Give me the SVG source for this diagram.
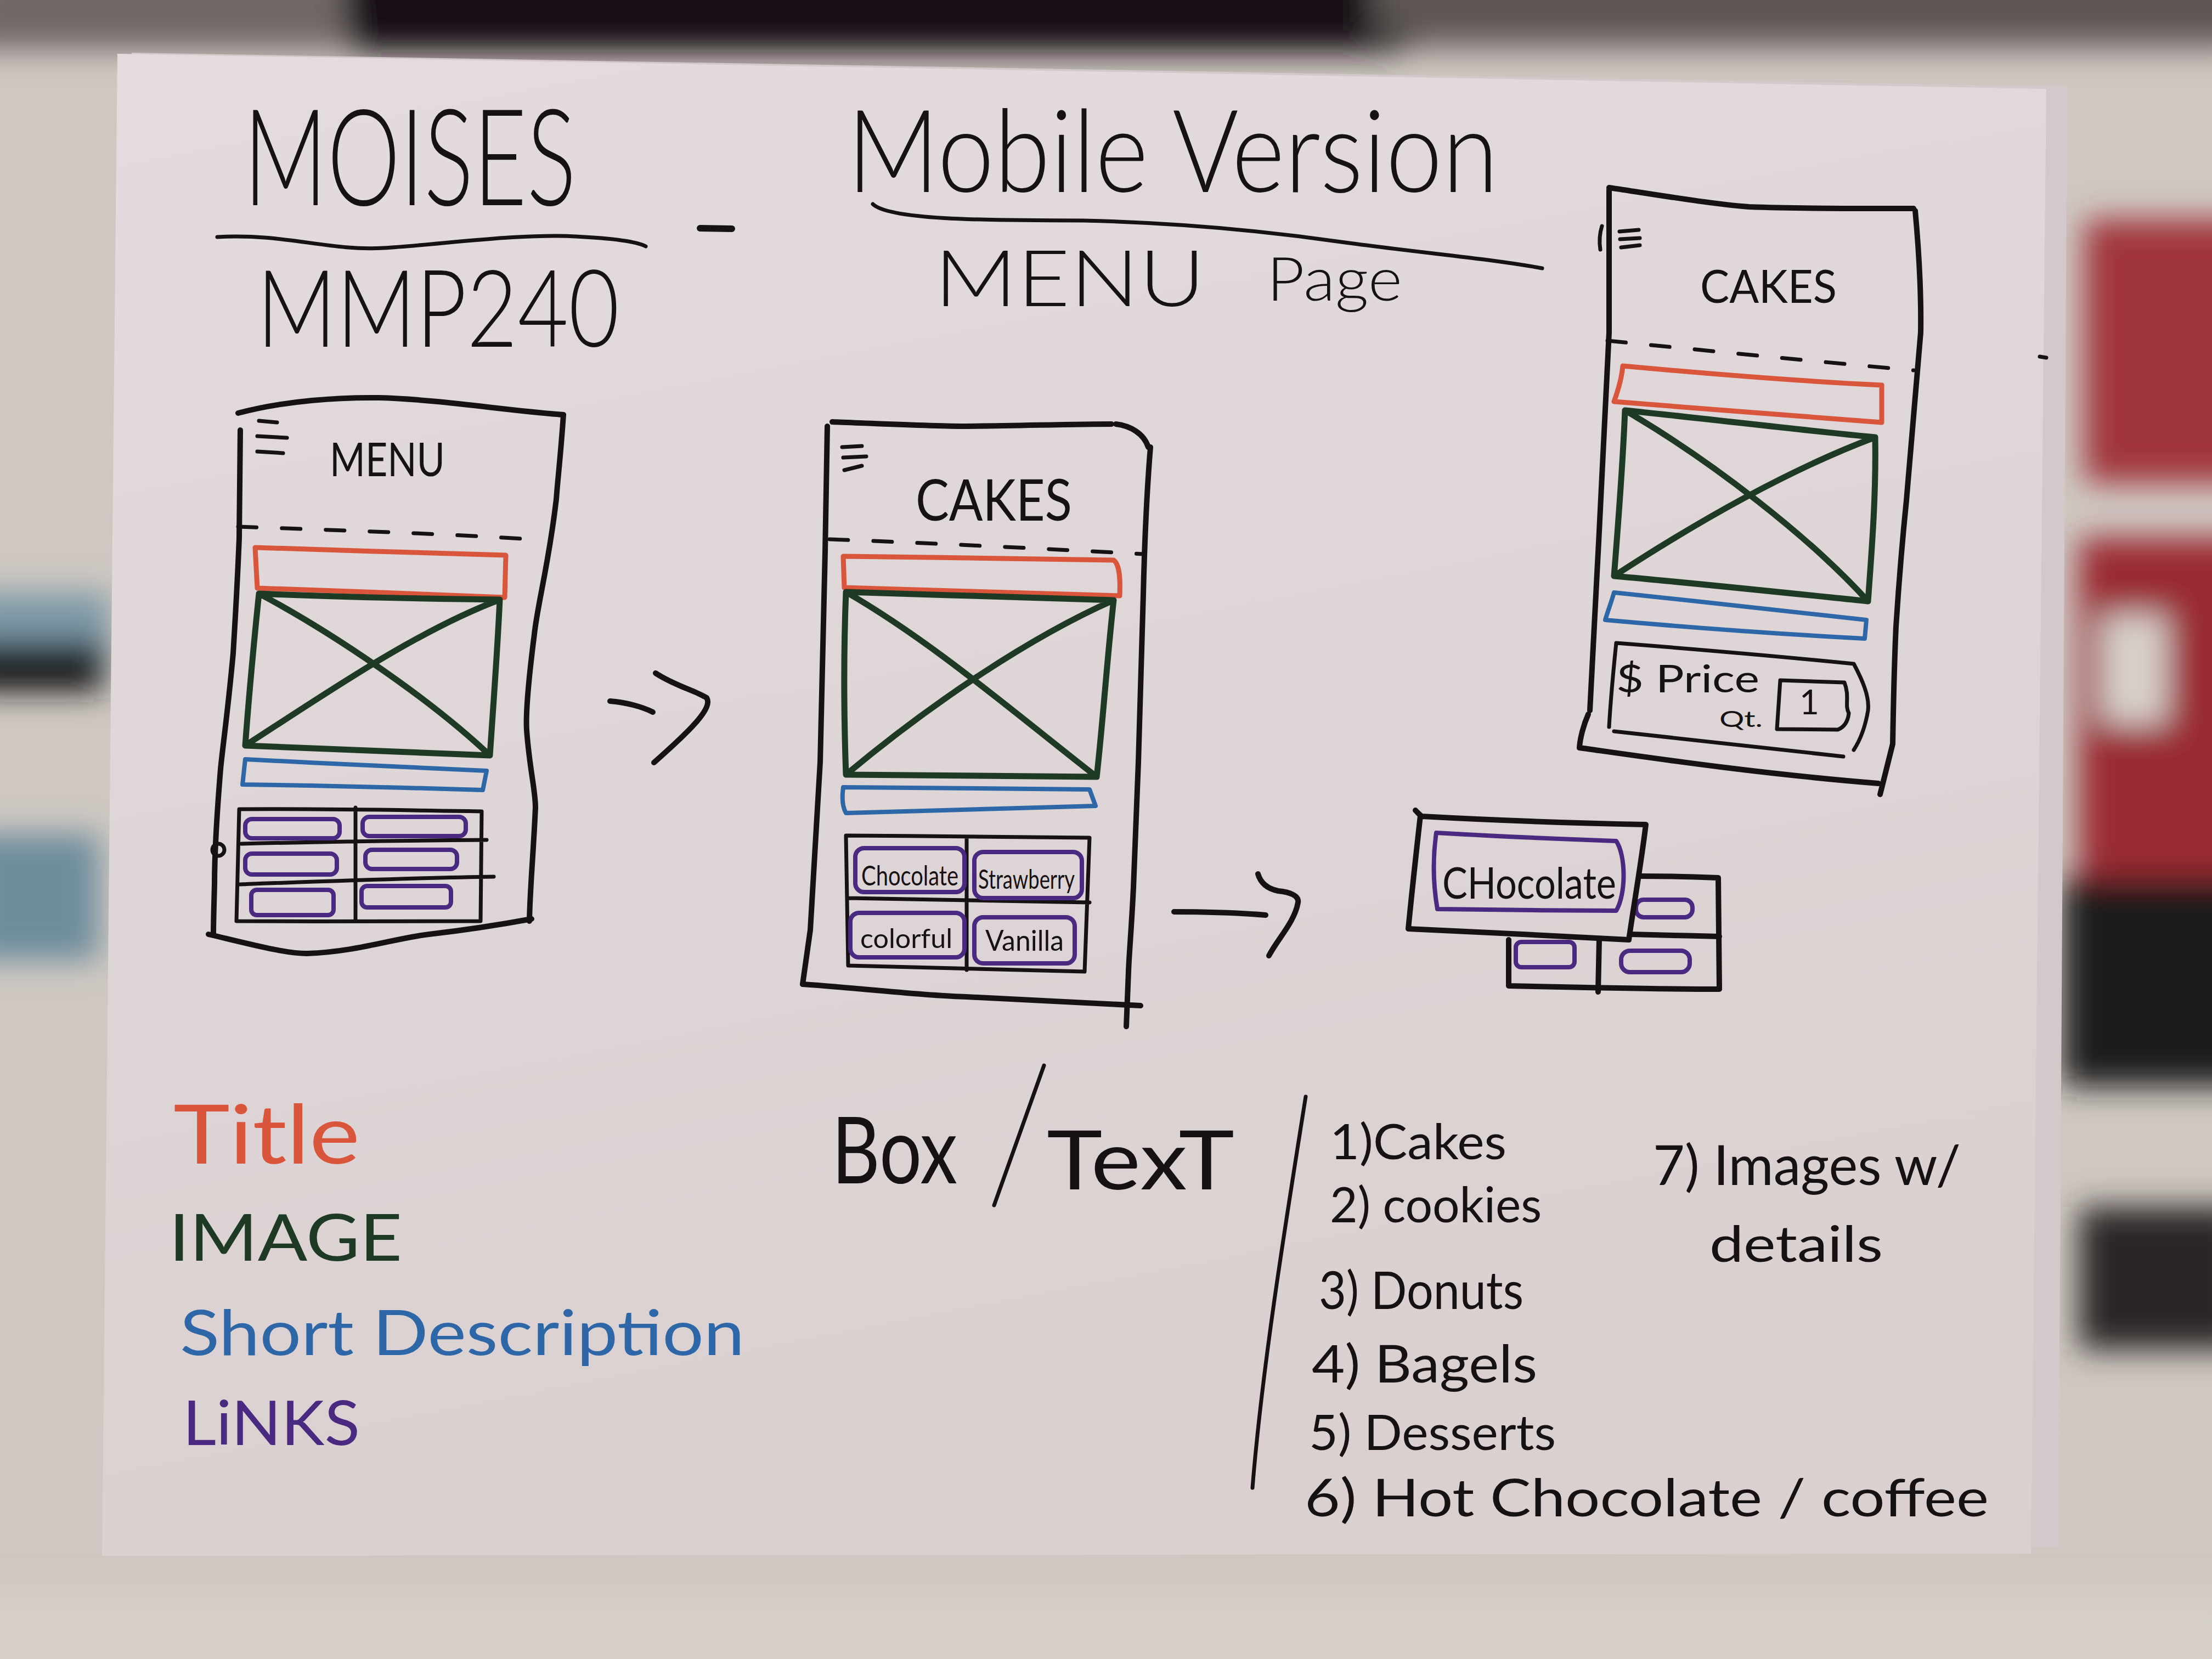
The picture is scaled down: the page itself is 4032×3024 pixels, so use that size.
<svg xmlns="http://www.w3.org/2000/svg" width="4032" height="3024" viewBox="0 0 4032 3024">
<defs>
<style>
.ink{fill:none;stroke:#161113;stroke-width:10;stroke-linecap:round;stroke-linejoin:round}
.fine{stroke-width:7}
.dash{stroke-dasharray:34 46}
.red{fill:none;stroke:#d9553b;stroke-width:9;stroke-linecap:round;stroke-linejoin:round}
.grn{fill:none;stroke:#1e3a24;stroke-width:11;stroke-linecap:round;stroke-linejoin:round}
.blu{fill:none;stroke:#2d67a8;stroke-width:8;stroke-linecap:round;stroke-linejoin:round}
.pur{fill:none;stroke:#4a2a80;stroke-width:8;stroke-linecap:round;stroke-linejoin:round}
text{font-family:Lato,"Open Sans","DejaVu Sans",sans-serif;fill:#161113}
.thin{font-weight:300}
.mk{font-weight:400}
</style>
<filter id="fuzz" x="-20%" y="-20%" width="140%" height="140%"><feGaussianBlur stdDeviation="28"/></filter>
<linearGradient id="sheet" x1="0" y1="0" x2="0.25" y2="1">
<stop offset="0" stop-color="#e3dbde"/>
<stop offset="1" stop-color="#dad0d0"/>
</linearGradient>
</defs>

<!-- blanket under the sheets -->
<g id="backdrop">
<rect x="0" y="0" width="4032" height="3024" fill="#cfc8c2"/>
<g filter="url(#fuzz)">
<rect x="-60" y="-60" width="4150" height="150" fill="#6f6866"/>
<path d="M620,-60 L2600,-60 L2560,95 L640,95 Z" fill="#141112"/>
<rect x="2500" y="-60" width="1600" height="120" fill="#5c5553"/>
<rect x="3800" y="400" width="300" height="480" fill="#a0353a"/>
<rect x="3790" y="980" width="320" height="620" fill="#9a2b30"/>
<rect x="3830" y="1120" width="120" height="200" fill="#d8d0cc"/>
<rect x="3760" y="1600" width="340" height="380" fill="#1d1a1c"/>
<rect x="3790" y="2200" width="300" height="260" fill="#2a2628"/>
<rect x="-60" y="1080" width="260" height="140" fill="#7c98a6"/>
<rect x="-60" y="1170" width="250" height="90" fill="#151314"/>
<rect x="-60" y="1520" width="240" height="230" fill="#6d8c9c"/>
<rect x="-60" y="2900" width="4150" height="200" fill="#d6cfc9"/>
</g>
</g>

<!-- paper: one sheet behind, one on top -->
<g id="paper">
<path d="M240,96 L3768,158 L3752,2820 L210,2832 Z" fill="#d3c9cb"/>
<path d="M214,98 L3730,162 L3702,2832 L186,2836 Z" fill="url(#sheet)"/>
<path d="M3718,650 L3730,652" class="ink fine"/>
</g>

<!-- heading -->
<g id="heading">
<text class="thin" x="444" y="374" font-size="245" textLength="606" lengthAdjust="spacingAndGlyphs">MOISES</text>
<path class="ink fine" d="M396,432 C520,425 600,458 699,452 C800,446 950,425 1049,431 C1110,434 1160,440 1177,449"/>
<path class="ink" d="M1276,416 L1334,417" style="stroke-width:12"/>
<text class="thin" x="468" y="632" font-size="195" textLength="661" lengthAdjust="spacingAndGlyphs">MMP240</text>
<text class="thin" x="1544" y="350" font-size="210" textLength="1187" lengthAdjust="spacingAndGlyphs">Mobile Version</text>
<path class="ink fine" d="M1591,372 C1620,400 1780,402 1974,402 C2150,406 2300,420 2452,442 C2600,462 2720,472 2811,489"/>
<text class="thin" x="1703" y="558" font-size="143" textLength="494" lengthAdjust="spacingAndGlyphs">MENU</text>
<text class="thin" x="2309" y="548" font-size="110" textLength="247" lengthAdjust="spacingAndGlyphs">Page</text>
</g>

<!-- wireframe: menu screen -->
<g id="wf-menu">
<path class="ink" d="M434,753 C520,730 620,724 692,725 C800,728 920,748 1027,756"/>
<path class="ink" d="M1027,756 C1022,830 1016,880 1014,910 C1000,1030 980,1100 974,1156 C962,1250 958,1300 960,1331 C965,1400 976,1440 976,1472 C972,1560 966,1620 965,1679"/>
<path class="ink" d="M438,784 C437,880 436,940 436,981 C432,1080 428,1140 425,1191 C415,1300 406,1360 402,1402 C394,1500 391,1560 391,1612 C390,1650 389,1680 389,1703"/>
<circle class="ink fine" cx="398" cy="1549" r="11"/>
<path class="ink" d="M380,1703 C460,1722 520,1738 559,1738 C650,1735 720,1710 782,1703 C860,1694 920,1684 969,1675"/>
<path class="ink fine" d="M472,767 L505,770 M469,795 L523,798 M469,823 L516,826"/>
<text class="mk" x="601" y="868" font-size="86" textLength="210" lengthAdjust="spacingAndGlyphs">MENU</text>
<path class="ink fine dash" d="M434,960 C600,966 800,972 983,984"/>
<path class="red" d="M465,998 C600,1003 800,1008 922,1012 L920,1089 C800,1084 600,1076 469,1072 Z"/>
<path class="grn" d="M472,1082 C600,1088 800,1092 911,1093 C906,1200 898,1300 893,1377 C750,1372 600,1364 447,1359 C455,1250 465,1150 472,1082 Z M472,1082 C600,1150 780,1270 893,1377 M911,1093 C760,1150 600,1260 447,1359"/>
<path class="blu" d="M447,1384 C600,1392 780,1400 887,1405 L880,1440 C750,1436 600,1432 442,1430 Z"/>
<path class="ink fine" d="M436,1475 C600,1474 760,1477 878,1479 L876,1679 C740,1679 580,1680 431,1679 Z M648,1472 L648,1679 M440,1538 C600,1534 760,1532 887,1531 M438,1612 C600,1606 760,1600 900,1598"/>
<rect class="pur" x="447" y="1493" width="172" height="35" rx="12"/>
<rect class="pur" x="447" y="1556" width="167" height="38" rx="12"/>
<rect class="pur" x="458" y="1622" width="150" height="46" rx="10"/>
<rect class="pur" x="661" y="1489" width="188" height="35" rx="12"/>
<rect class="pur" x="666" y="1549" width="167" height="35" rx="12"/>
<rect class="pur" x="659" y="1615" width="163" height="39" rx="10"/>
</g>

<!-- wireframe: cakes category screen -->
<g id="wf-cakes">
<path class="ink" d="M1517,769 C1600,772 1700,777 1762,777 C1860,776 1960,773 2026,773"/>
<path class="ink" d="M2034,773 C2060,776 2085,790 2093,815"/>
<path class="ink" d="M2097,815 C2090,900 2086,1000 2084,1083 C2080,1200 2077,1300 2075,1389 C2071,1480 2068,1560 2066,1618 C2062,1700 2058,1740 2057,1771 L2053,1871"/>
<path class="ink" d="M1508,777 C1506,880 1505,950 1504,1006 C1500,1150 1498,1280 1495,1389 C1488,1520 1482,1620 1477,1695 L1463,1794"/>
<path class="ink" d="M1463,1794 C1580,1802 1680,1815 1762,1817 C1880,1822 1990,1828 2079,1833"/>
<path class="ink fine" d="M1535,815 L1571,813 M1537,834 L1579,832 M1539,857 L1571,849"/>
<text class="mk" x="1669" y="949" font-size="105" textLength="285" lengthAdjust="spacingAndGlyphs">CAKES</text>
<path class="ink fine dash" d="M1512,983 C1700,990 1900,1000 2084,1010"/>
<path class="red" d="M1537,1014 C1700,1016 1900,1019 2030,1021 C2042,1030 2042,1060 2041,1086 C1900,1082 1700,1076 1539,1071 Z"/>
<path class="grn" d="M1542,1079 C1700,1084 1900,1090 2030,1094 C2018,1200 2010,1320 1999,1416 C1850,1414 1700,1413 1542,1412 C1538,1300 1538,1180 1542,1079 Z M1542,1079 C1700,1170 1850,1300 1999,1416 M2030,1094 C1880,1160 1700,1280 1542,1412"/>
<path class="blu" d="M1537,1435 C1700,1436 1880,1438 1986,1439 L1997,1469 C1850,1472 1700,1478 1542,1482 C1535,1470 1535,1450 1537,1435 Z"/>
<path class="ink fine" d="M1542,1523 C1700,1524 1880,1526 1986,1527 L1977,1771 C1840,1768 1700,1764 1546,1760 Z M1762,1527 L1762,1768 M1546,1637 C1700,1640 1880,1643 1986,1645"/>
<rect class="pur" x="1559" y="1546" width="199" height="80" rx="16"/>
<rect class="pur" x="1776" y="1553" width="196" height="84" rx="16"/>
<rect class="pur" x="1550" y="1664" width="208" height="81" rx="16"/>
<rect class="pur" x="1776" y="1672" width="183" height="84" rx="16"/>
<text class="mk" x="1570" y="1614" font-size="50" textLength="177" lengthAdjust="spacingAndGlyphs">Chocolate</text>
<text class="mk" x="1783" y="1620" font-size="48" textLength="176" lengthAdjust="spacingAndGlyphs">Strawberry</text>
<text class="mk" x="1568" y="1728" font-size="48" textLength="168" lengthAdjust="spacingAndGlyphs">colorful</text>
<text class="mk" x="1796" y="1733" font-size="52" textLength="143" lengthAdjust="spacingAndGlyphs">Vanilla</text>
</g>

<!-- wireframe: cake detail screen -->
<g id="wf-detail">
<path class="ink" d="M2933,342 C3020,355 3120,372 3188,377 C3300,381 3420,380 3488,380"/>
<path class="ink" d="M3491,384 C3498,460 3502,540 3501,606 C3492,720 3482,820 3475,912 C3466,1000 3460,1080 3456,1142 C3452,1230 3451,1300 3450,1356 L3427,1448"/>
<path class="ink" d="M2933,346 C2933,450 2933,540 2933,606 C2926,750 2920,880 2914,989 C2908,1100 2902,1220 2898,1295"/>
<path class="ink fine" d="M2920,412 C2915,428 2915,442 2917,455"/>
<path class="ink" d="M2895,1302 C2887,1320 2880,1345 2879,1363 C3000,1380 3200,1410 3424,1428"/>
<path class="ink fine" d="M2952,422 L2987,419 M2953,436 L2989,434 M2955,451 L2989,447"/>
<text class="mk" x="3099" y="552" font-size="84" textLength="249" lengthAdjust="spacingAndGlyphs">CAKES</text>
<path class="ink fine dash" d="M2930,621 C3100,638 3300,658 3488,675"/>
<path class="red" d="M2958,667 C3100,680 3300,696 3430,702 L3430,770 C3300,760 3100,745 2942,732 C2950,710 2956,690 2958,667 Z"/>
<path class="grn" d="M2962,748 C3100,762 3300,786 3418,797 C3420,900 3412,1000 3405,1096 C3250,1080 3100,1064 2942,1050 C2950,950 2958,850 2962,748 Z M2962,748 C3120,840 3300,980 3405,1096 M3418,797 C3250,860 3080,960 2942,1050"/>
<path class="blu" d="M2942,1080 C3100,1096 3300,1120 3402,1130 L3399,1164 C3250,1156 3080,1144 2926,1130 C2932,1110 2938,1095 2942,1080 Z"/>
<path class="ink fine" d="M2946,1172 C3100,1184 3280,1200 3379,1210 C3395,1240 3408,1270 3405,1295 C3400,1325 3390,1350 3379,1367 M2942,1333 C3100,1350 3250,1368 3360,1379 M2946,1172 C2940,1230 2935,1290 2933,1325"/>
<path class="ink fine" d="M3245,1240 L3362,1244 C3372,1270 3362,1285 3370,1300 C3368,1318 3360,1326 3350,1330 L3239,1329 Z"/>
<text class="mk" x="2946" y="1262" font-size="70" textLength="261" lengthAdjust="spacingAndGlyphs">$ Price</text>
<text class="mk" x="3134" y="1325" font-size="40" textLength="79" lengthAdjust="spacingAndGlyphs">Qt.</text>
<text class="mk" x="3280" y="1302" font-size="62">1</text>
</g>

<!-- opened flavour dropdown -->
<g id="flavour-menu">
<path class="ink" d="M2750,1713 L2750,1797 C2880,1800 3020,1803 3134,1803 L3132,1600 C3080,1598 3030,1597 2991,1597"/>
<path class="ink" d="M2973,1703 C3030,1704 3080,1706 3134,1707 M2915,1713 L2913,1808"/>
<rect class="pur" x="2982" y="1640" width="103" height="32" rx="14"/>
<rect class="pur" x="2763" y="1717" width="107" height="46" rx="10"/>
<rect class="pur" x="2955" y="1733" width="125" height="39" rx="16"/>
<path class="ink" d="M2580,1477 C2585,1482 2588,1486 2592,1488 C2700,1494 2860,1500 3000,1503 C2992,1570 2978,1650 2969,1713 C2840,1706 2700,1699 2567,1693 C2574,1620 2582,1550 2589,1487" fill="#e0d8da"/>
<path class="pur" d="M2618,1518 C2720,1524 2860,1530 2946,1533 C2964,1560 2964,1630 2946,1660 C2840,1660 2720,1658 2620,1657 C2612,1610 2612,1560 2618,1518 Z"/>
<text class="mk" x="2629" y="1638" font-size="80" textLength="317" lengthAdjust="spacingAndGlyphs">CHocolate</text>
</g>

<!-- colour key -->
<g id="legend">
<text class="mk" x="316" y="2121" font-size="150" textLength="340" lengthAdjust="spacingAndGlyphs" style="fill:#d9553b">Title</text>
<text class="mk" x="308" y="2298" font-size="118" textLength="425" lengthAdjust="spacingAndGlyphs" style="fill:#1e3a24">IMAGE</text>
<text class="mk" x="328" y="2470" font-size="115" textLength="1029" lengthAdjust="spacingAndGlyphs" style="fill:#2d67a8">Short Description</text>
<text class="mk" x="333" y="2634" font-size="112" textLength="323" lengthAdjust="spacingAndGlyphs" style="fill:#4a2a80">LiNKS</text>
</g>

<!-- note on box vs text -->
<g id="box-text">
<text class="mk" x="1516" y="2157" font-size="168" textLength="229" lengthAdjust="spacingAndGlyphs">Box</text>
<path class="ink fine" d="M1903,1942 L1812,2197"/>
<text class="mk" x="1908" y="2168" font-size="150" textLength="342" lengthAdjust="spacingAndGlyphs">TexT</text>
</g>

<!-- category list -->
<g id="categories">
<path class="ink fine" d="M2380,1999 C2340,2250 2300,2500 2283,2712"/>
<text class="mk" x="2424" y="2113" font-size="90" textLength="322" lengthAdjust="spacingAndGlyphs">1)Cakes</text>
<text class="mk" x="2424" y="2228" font-size="90" textLength="386" lengthAdjust="spacingAndGlyphs">2) cookies</text>
<text class="mk" x="2404" y="2386" font-size="95" textLength="373" lengthAdjust="spacingAndGlyphs">3) Donuts</text>
<text class="mk" x="2391" y="2520" font-size="95" textLength="411" lengthAdjust="spacingAndGlyphs">4) Bagels</text>
<text class="mk" x="2386" y="2643" font-size="90" textLength="450" lengthAdjust="spacingAndGlyphs">5) Desserts</text>
<text class="mk" x="2378" y="2764" font-size="95" textLength="1247" lengthAdjust="spacingAndGlyphs">6) Hot Chocolate / coffee</text>
<text class="mk" x="3013" y="2160" font-size="100" textLength="561" lengthAdjust="spacingAndGlyphs">7) Images w/</text>
<text class="mk" x="3116" y="2300" font-size="92" textLength="316" lengthAdjust="spacingAndGlyphs">details</text>
</g>

<!-- flow arrows between screens -->
<g id="connectors">
<path class="ink" d="M1112,1278 C1140,1280 1170,1288 1190,1298"/>
<path class="ink" d="M1195,1227 C1230,1250 1270,1260 1288,1272 C1300,1290 1260,1330 1192,1390"/>
<path class="ink" d="M2140,1662 C2200,1662 2260,1664 2307,1668"/>
<path class="ink" d="M2293,1593 C2298,1610 2310,1620 2330,1624 C2350,1626 2368,1632 2366,1645 C2360,1680 2330,1710 2313,1742"/>
</g>
</svg>
